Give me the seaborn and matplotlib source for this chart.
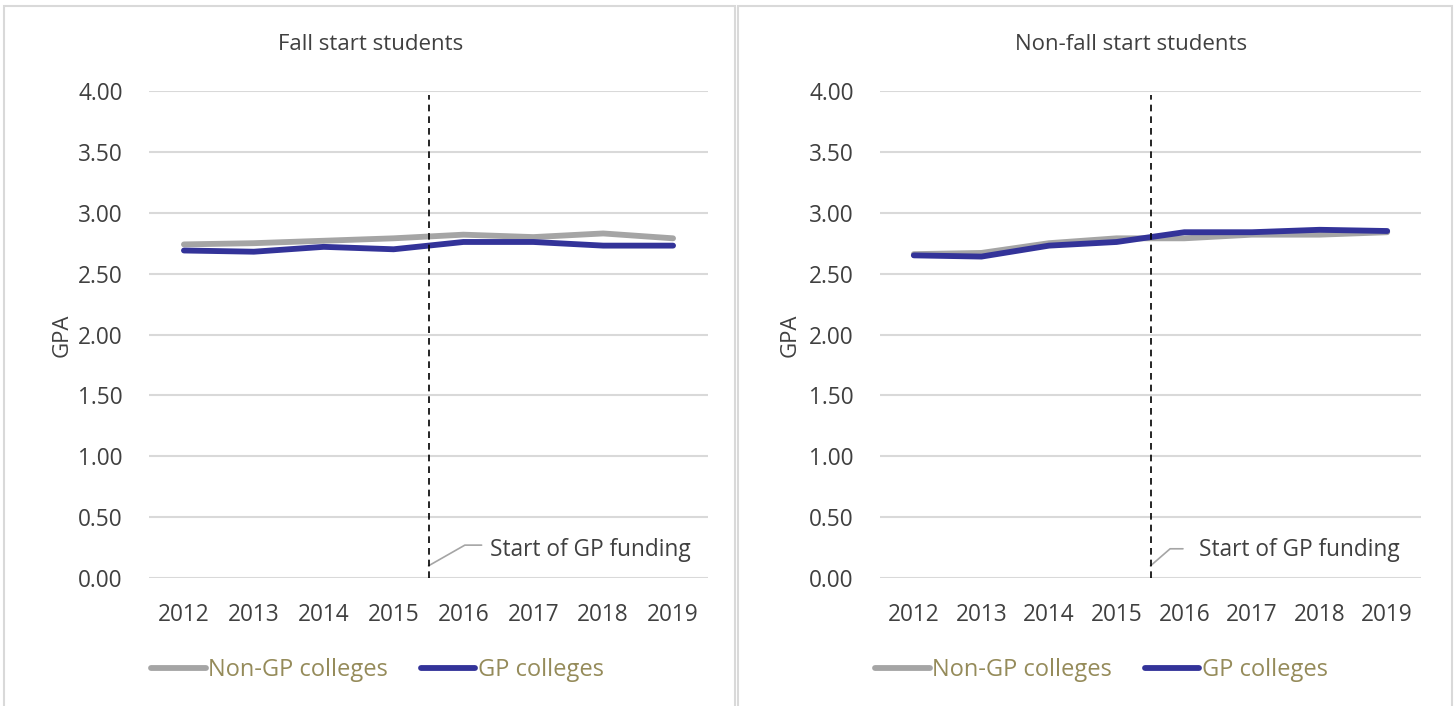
import numpy as np
import pandas as pd
import matplotlib
matplotlib.use("Agg")
import matplotlib.pyplot as plt
from matplotlib.patches import Rectangle
import seaborn as sns

years = [2012, 2013, 2014, 2015, 2016, 2017, 2018, 2019]
fall_non_gp = [2.74, 2.75, 2.77, 2.79, 2.82, 2.80, 2.83, 2.79]
fall_gp = [2.69, 2.68, 2.72, 2.70, 2.76, 2.76, 2.73, 2.73]
nonfall_non_gp = [2.66, 2.67, 2.75, 2.79, 2.79, 2.82, 2.82, 2.84]
nonfall_gp = [2.65, 2.64, 2.73, 2.76, 2.84, 2.84, 2.86, 2.85]
series_names = ["Non-GP colleges", "GP colleges"]
panel_titles = ["Fall start students", "Non-fall start students"]
yticks = [0, 0.5, 1.0, 1.5, 2.0, 2.5, 3.0, 3.5, 4.0]
funding_start = 2015.5
note = "Start of GP funding"

palette = {"Non-GP colleges": "#A5A5A5", "GP colleges": "#333399"}
text_col = "#404040"
legend_col = "#958B5A"
grid_col = "#D9D9D9"


def long_frame(non_gp, gp):
    return pd.DataFrame({
        "year": years * 2,
        "GPA": non_gp + gp,
        "group": [series_names[0]] * len(years) + [series_names[1]] * len(years),
    })


sns.set_style("white")
plt.rcParams["font.family"] = ["Open Sans", "DejaVu Sans"]

fig = plt.figure(figsize=(14.55, 7.06), dpi=100)
W, H = 1455, 706

# panel frames
for x0, x1 in [(4, 735), (738, 1452)]:
    fig.patches.append(Rectangle((x0 / W, -0.01), (x1 - x0) / W, 1 - 6 / H + 0.01,
                                 transform=fig.transFigure, fill=False,
                                 edgecolor="#D9D9D9", lw=1.5))

panels = [
    dict(df=long_frame(fall_non_gp, fall_gp), box=(149, 708), title_x=371,
         ylab_x=62, elbow=(2016.02, 0.27), end=2016.26, text_x=2016.38, text_y=0.23,
         leg=(130, 670)),
    dict(df=long_frame(nonfall_non_gp, nonfall_gp), box=(880, 1421), title_x=1131,
         ylab_x=790, elbow=(2015.79, 0.24), end=2015.98, text_x=2016.22, text_y=0.23,
         leg=(854, 670)),
]

top_px, bot_px = 91, 578
for i, p in enumerate(panels):
    x0, x1 = p["box"]
    ax = fig.add_axes([x0 / W, 1 - bot_px / H, (x1 - x0) / W, (bot_px - top_px) / H])
    sns.lineplot(data=p["df"], x="year", y="GPA", hue="group", palette=palette,
                 hue_order=series_names, lw=4.2, ax=ax, legend=False,
                 solid_capstyle="round")
    ax.set_xlim(2011.5, 2019.5)
    ax.set_ylim(0, 4.0)
    ax.set_yticks(yticks)
    ax.set_yticklabels([f"{v:.2f}" for v in yticks])
    ax.set_xticks(years)
    ax.set_xticklabels([str(y) for y in years])
    ax.tick_params(axis="both", length=0, labelsize=16.3, labelcolor=text_col)
    ax.tick_params(axis="y", pad=19)
    ax.tick_params(axis="x", pad=18)
    for v in yticks:
        ax.axhline(v, color=grid_col, lw=1.5, zorder=0)
    for s in ax.spines.values():
        s.set_visible(False)
    ax.set_xlabel("")
    ax.set_ylabel("")
    ax.axvline(funding_start, ymax=3.97 / 4.0, color="black", lw=1.2,
               ls=(0, (4, 3)), zorder=3)

    # annotation leader + text
    ex, ey = p["elbow"]
    ax.plot([funding_start, ex, p["end"]], [0.1, ey, ey], color="#A5A5A5", lw=1.2)
    ax.text(p["text_x"], p["text_y"], note, fontsize=16.3, color=text_col,
            va="center", ha="left")

    fig.text(p["title_x"] / W, 1 - 45 / H, panel_titles[i], fontsize=16,
             color=text_col, ha="center", va="center")
    fig.text(p["ylab_x"] / W, 1 - 335 / H, "GPA", fontsize=16, color=text_col,
             rotation=90, ha="center", va="center")

    handles = [plt.Line2D([], [], color=palette[n], lw=4.2, solid_capstyle="round")
               for n in series_names]
    lx, ly = p["leg"]
    leg = fig.legend(handles, series_names, loc="center left",
                     bbox_to_anchor=(lx / W, 1 - ly / H), ncol=2, frameon=False,
                     fontsize=17, handlelength=2.3, handletextpad=0.1,
                     columnspacing=1.4)
    for t in leg.get_texts():
        t.set_color(legend_col)

fig.savefig("out.png", dpi=100)
